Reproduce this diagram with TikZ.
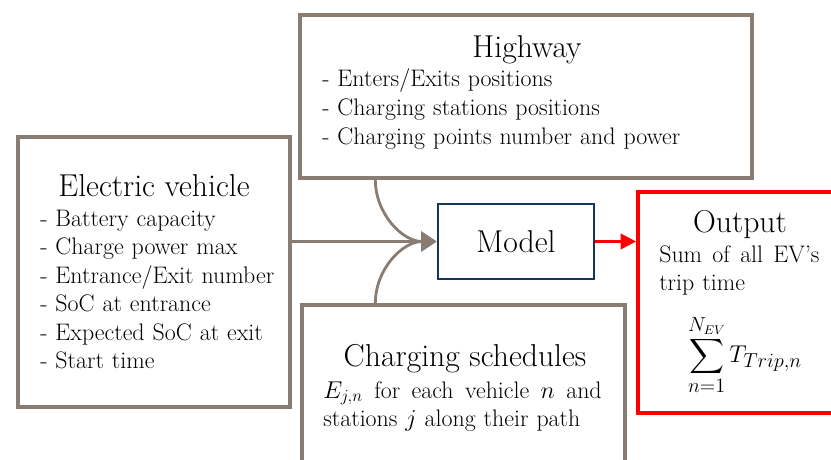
\documentclass[tikz,border=0pt]{standalone}
\usepackage{exscale}
\usetikzlibrary{arrows.meta}
\definecolor{boxgray}{RGB}{137,124,114}
\definecolor{modelblue}{RGB}{22,54,92}
\definecolor{outred}{RGB}{255,0,0}

\begin{document}
\begin{tikzpicture}[x=0.025cm, y=-0.025cm,
  box/.style={draw=boxgray, line width=2.4pt, inner sep=0pt},
  title/.style={font=\fontsize{22.5}{26}\selectfont, inner sep=0pt},
  items/.style={font=\fontsize{17}{20.3}\selectfont, align=left, inner sep=0pt, anchor=base west},
  feed/.style={draw=boxgray, line width=2pt, -{Triangle[length=11pt,width=14pt]}}]
\def\u{0.025cm}

\def\xev{154};
\def\xhw{526};
\def\xcs{463.5}
\def\xmd{516};
\def\xout{741.5};

\def\ymid{241.5};

\clip (0,0) rectangle (831,460);

% input and output boxes
\node[box, minimum width=452*\u, minimum height=163*\u] (hw) at (\xhw, 96.5) {};
\node[box, minimum width=272*\u, minimum height=270*\u] (ev) at (\xev, 272) {};
\node[box, minimum width=323*\u, minimum height=165*\u] (cs) at (\xcs, 387.5) {};
\node[draw=modelblue, line width=2.1pt, minimum width=156*\u, minimum height=75*\u] (md) at (\xmd, \ymid) {};
\node[draw=outred, line width=2.8pt, minimum width=207*\u, minimum height=221*\u] (out) at (\xout, 302.5) {};

% titles
\node[title, anchor=base] (hwt) at (527, 57) {Highway};
\node[title, anchor=base] (evt) at (\xev, 196) {Electric vehicle};
\node[title, anchor=base] (cst) at (465, 366) {Charging schedules};
\node[title, anchor=base] (mdt) at (\xmd, 252) {Model};
\node[title, anchor=base] (outt) at (740, 232) {Output};

% lists
\node[items, text width=300pt] (hwl) at (322, 87) {- Enters/Exits positions\\- Charging stations positions\\- Charging points number and power};
\node[items, text width=200pt] (evl) at (40, 226) {- Battery capacity\\- Charge power max\\- Entrance/Exit number\\- SoC at entrance\\- Expected SoC at exit\\- Start time};
\node[items, text width=200pt] (csl) at (323, 398) {\hbox to 198pt{$E_{j,n}$\hfill for\hfill each\hfill vehicle\hfill $n$\hfill and}\\stations $j$ along their path};
\node[items, text width=116pt] (outl) at (659, 262) {\hbox to 114pt{Sum\hfill of\hfill all\hfill EV’s}\\trip time};
\node[font=\fontsize{19}{22}\selectfont, inner sep=0pt] (sum) at (745, 355) {$\displaystyle\sum_{n=1}^{N_{EV}} T_{Trip,n}$};

% connectors
\draw[feed] (ev.east |- md.west) -- (md.west);
\draw[feed] ([xshift=77*\u]hw.south west) to[out=-90, in=180] (md.west);
\draw[feed] ([xshift=75*\u]cs.north west) to[out=90, in=180] (md.west);
\draw[draw=outred, line width=2pt, -{Triangle[length=11pt,width=11pt]}] (md.east) -- (out.west |- md.east);

\end{tikzpicture}
\end{document}
